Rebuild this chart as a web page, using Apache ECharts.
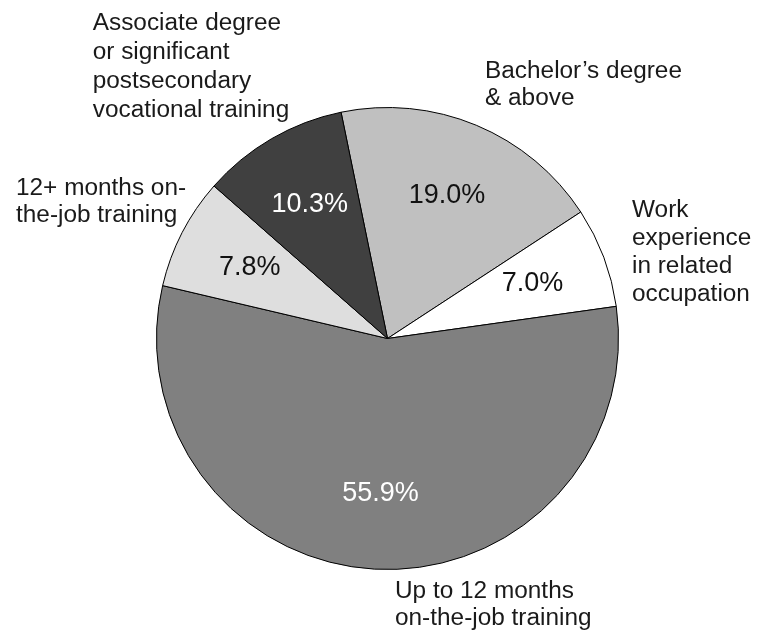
<!DOCTYPE html>
<html>
<head>
<meta charset="utf-8">
<script src="https://cdn.jsdelivr.net/npm/echarts@6/dist/echarts.min.js"></script>
<style>
html,body{margin:0;padding:0;background:#fff;}
#chart{width:765px;height:634px;}
</style>
</head>
<body>
<div id="chart"></div>
<script>
// ---- data ----
const categories = [
  "Bachelor\u2019s degree & above",
  "Work experience in related occupation",
  "Up to 12 months on-the-job training",
  "12+ months on-the-job training",
  "Associate degree or significant postsecondary vocational training"
];
const categoryLabelLines = [
  ["Bachelor\u2019s degree", "& above"],
  ["Work", "experience", "in related", "occupation"],
  ["Up to 12 months", "on-the-job training"],
  ["12+ months on-", "the-job training"],
  ["Associate degree", "or significant", "postsecondary", "vocational training"]
];
const shares = [19.0, 7.0, 55.9, 7.8, 10.3];

// ---- styling ----
const sliceColors = ['#c0c0c0', '#ffffff', '#808080', '#dedede', '#404040'];
const pctColors = ['#111', '#111', '#ffffff', '#111', '#ffffff'];
const FONT = '"Liberation Sans", Arial, sans-serif';
const center = [387.5, 338.5];
const R = 231;
const startAngle = 101.6;
// outer category label placement [x, y(top), lineHeight]
const labelPlace = [
  [485, 57.5, 27.5],
  [632, 196.5, 28],
  [395, 578.5, 27],
  [16, 175.2, 27],
  [92.7, 9.2, 29]
];

const chart = echarts.init(document.getElementById('chart'), null, {renderer: 'canvas'});

const pieData = categories.map((c, i) => ({
  name: c,
  value: shares[i],
  itemStyle: {color: sliceColors[i]}
}));
const labelData = categories.map((c, i) => ({
  name: c,
  value: shares[i],
  label: {color: pctColors[i]}
}));

const graphics = categoryLabelLines.map((lines, i) => ({
  type: 'text',
  x: labelPlace[i][0],
  y: labelPlace[i][1],
  scaleX: 1.06,
  silent: true,
  style: {
    x: 0, y: 0,
    text: lines.join('\n'),
    fontSize: 23,
    fontFamily: FONT,
    lineHeight: labelPlace[i][2],
    fill: '#1a1a1a',
    align: 'left',
    verticalAlign: 'top'
  }
}));

chart.setOption({
  backgroundColor: '#ffffff',
  animation: false,
  graphic: graphics,
  series: [
    {
      type: 'pie',
      center: center,
      radius: [0, R],
      startAngle: startAngle,
      clockwise: true,
      avoidLabelOverlap: false,
      label: {show: false},
      labelLine: {show: false},
      itemStyle: {borderColor: '#000', borderWidth: 1},
      emphasis: {disabled: true},
      data: pieData
    },
    {
      type: 'pie',
      center: center,
      radius: [0, 2 * 152],
      startAngle: startAngle,
      clockwise: true,
      silent: true,
      avoidLabelOverlap: false,
      itemStyle: {color: 'rgba(0,0,0,0)', borderWidth: 0},
      labelLine: {show: false},
      label: {
        show: true,
        position: 'inside',
        fontSize: 27,
        fontFamily: FONT,
        formatter: p => p.value.toFixed(1) + '%'
      },
      emphasis: {disabled: true},
      data: labelData
    }
  ]
});
</script>
</body>
</html>
